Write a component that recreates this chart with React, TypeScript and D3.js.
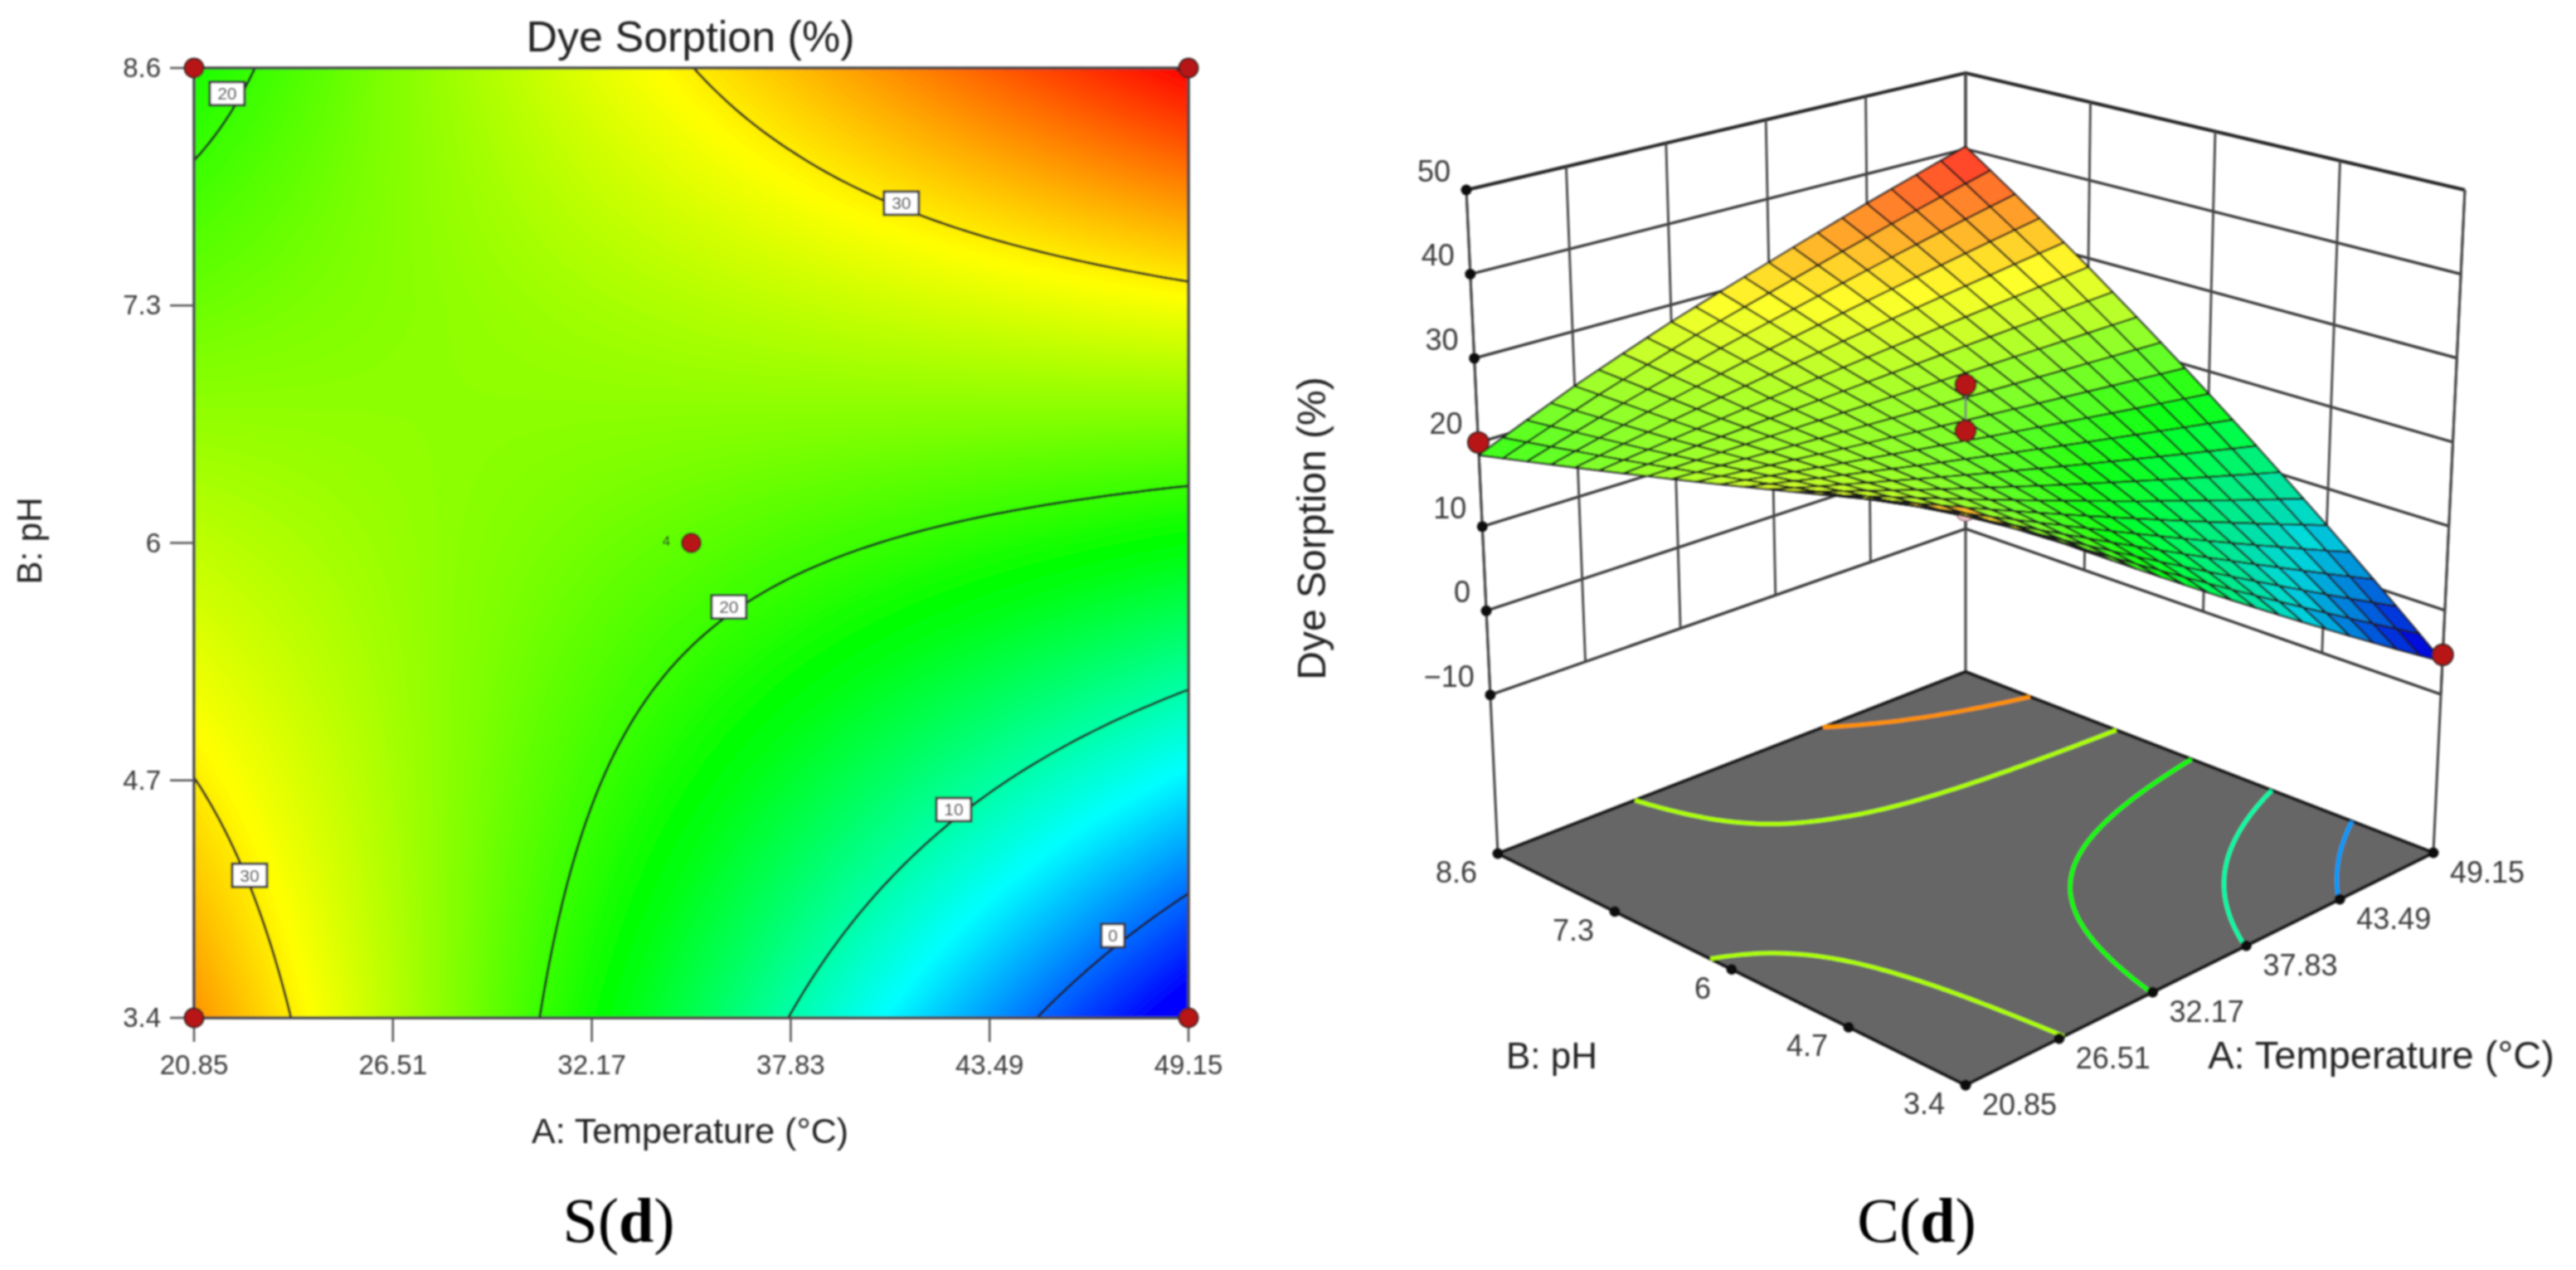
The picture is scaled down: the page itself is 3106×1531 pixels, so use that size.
import { useEffect, useRef } from "react";
import * as d3 from "d3";

const tempTicks = [20.85, 26.51, 32.17, 37.83, 43.49, 49.15];
const phTicks = [3.4, 4.7, 6, 7.3, 8.6];
const sorptionLevels = [-10, 0, 10, 20, 30, 40, 50];
const contourLevels = [0, 10, 20, 30, 40];
const floorLevels = [2, 10, 18, 25.5, 34];

// dye sorption read at each tick crossing, one row per pH tick
const sorptionAt34 = [33.9, 25.9, 17.9, 9.9, 1.9, -6.1];
const sorptionAt47 = [30.05, 25.15, 20.25, 15.35, 10.45, 5.55];
const sorptionAt60 = [26.2, 24.4, 22.6, 20.8, 19.0, 17.2];
const sorptionAt73 = [22.35, 23.65, 24.95, 26.25, 27.55, 28.85];
const sorptionAt86 = [18.5, 23.4, 27.9, 32.0, 36.2, 40.3];
const sorptionRows = [sorptionAt34, sorptionAt47, sorptionAt60, sorptionAt73, sorptionAt86];

const contourLabels: [string, number, number][] = [
  ["20", 21.79, 8.46],
  ["30", 40.98, 7.86],
  ["20", 36.07, 5.65],
  ["10", 42.47, 4.54],
  ["0", 47.0, 3.85],
  ["30", 22.43, 4.18],
];
const designPoints: [number, number][] = [
  [20.85, 8.6],
  [49.15, 8.6],
  [20.85, 3.4],
  [49.15, 3.4],
  [35, 6],
];
const surfacePoints: [number, number, number][] = [
  [20.85, 8.6, 20],
  [35, 6, 28.4],
  [35, 6, 22.9],
  [49.15, 3.4, -5.3],
];
const hiddenPoint: [number, number, number] = [20.85, 3.4, 33.5];

const minTemp = tempTicks[0];
const maxTemp = tempTicks[tempTicks.length - 1];
const minPh = phTicks[0];
const maxPh = phTicks[phTicks.length - 1];
const floorZ = -28.85;
const topZ = 50;

const sans = "'Liberation Sans', Arial, sans-serif";
const serif = "'Liberation Serif', 'Times New Roman', serif";

const sorptionColor = d3
  .scaleLinear<string>()
  .domain([-4.5, 6.2, 17.4, 29.2, 40.3])
  .range(["#0000ff", "#00ffff", "#00ff00", "#ffff00", "#ff0000"])
  .clamp(true);

// the mesh is a little darker in the blues and paler in the reds
const meshShade = d3.scaleLinear().domain([8, 22]).range([-0.14, 0.17]).clamp(true);
const meshColor = (z: number) => {
  const shade = meshShade(z);
  return shade < 0
    ? d3.interpolateRgb(sorptionColor(z), "#000000")(-shade)
    : d3.interpolateRgb(sorptionColor(z), "#ffffff")(shade);
};

const valueAt = (temp: number, ph: number) => {
  const i = Math.min(Math.max(d3.bisectRight(tempTicks, temp) - 1, 0), tempTicks.length - 2);
  const j = Math.min(Math.max(d3.bisectRight(phTicks, ph) - 1, 0), phTicks.length - 2);
  const s = (temp - tempTicks[i]) / (tempTicks[i + 1] - tempTicks[i]);
  const t = (ph - phTicks[j]) / (phTicks[j + 1] - phTicks[j]);
  const low = sorptionRows[j][i] * (1 - s) + sorptionRows[j][i + 1] * s;
  const high = sorptionRows[j + 1][i] * (1 - s) + sorptionRows[j + 1][i + 1] * s;
  return low * (1 - t) + high * t;
};

// sample grid for d3.contours
const gridSize = 141;
const gridTemp = d3.scaleLinear().domain([0.5, gridSize - 0.5]).range([minTemp, maxTemp]).clamp(true);
const gridPh = d3.scaleLinear().domain([0.5, gridSize - 0.5]).range([minPh, maxPh]).clamp(true);
const gridValues: number[] = [];
for (let j = 0; j < gridSize; j++) {
  for (let i = 0; i < gridSize; i++) {
    gridValues.push(valueAt(gridTemp(i + 0.5), gridPh(j + 0.5)));
  }
}
const contourGen = d3.contours().size([gridSize, gridSize]);

// contour rings run along the grid edge too, keep only the inner parts
const contourRuns = (level: number) => {
  const runs: [number, number][][] = [];
  const low = 0.75;
  const high = gridSize - 0.75;
  const onEdge = (a: number[], b: number[]) =>
    (a[0] <= low && b[0] <= low) ||
    (a[0] >= high && b[0] >= high) ||
    (a[1] <= low && b[1] <= low) ||
    (a[1] >= high && b[1] >= high);
  contourGen.contour(gridValues, level).coordinates.forEach((polygon) => {
    polygon.forEach((ring) => {
      const local: [number, number][][] = [];
      let current: [number, number][] = [];
      for (let k = 1; k < ring.length; k++) {
        if (onEdge(ring[k - 1], ring[k])) {
          if (current.length) local.push(current);
          current = [];
        } else {
          if (!current.length) current.push(ring[k - 1] as [number, number]);
          current.push(ring[k] as [number, number]);
        }
      }
      if (current.length) local.push(current);
      if (local.length > 1 && !onEdge(ring[ring.length - 2], ring[0])) {
        const last = local.pop() as [number, number][];
        local[0] = last.concat(local[0].slice(1));
      }
      runs.push(...local);
    });
  });
  return runs.map((run) => run.map(([x, y]) => [gridTemp(x), gridPh(y)] as [number, number]));
};

// corners of the 3D box as [front, right, left, back]
const boxFloor = [[2370, 1308], [2934, 1028], [1806, 1029], [2370, 810]];
const boxTop = [[2370, 433], [2972, 229], [1768, 229], [2370, 88]];
const tempUnit = d3.scaleLinear().domain([minTemp, maxTemp]).range([0, 1]);
const phUnit = d3.scaleLinear().domain([minPh, maxPh]).range([0, 1]);
const zUnit = d3.scaleLinear().domain([floorZ, topZ]).range([0, 1]);

const project = (temp: number, ph: number, z: number): [number, number] => {
  const a = tempUnit(temp);
  const b = phUnit(ph);
  const c = zUnit(z);
  const weights = [(1 - a) * (1 - b), a * (1 - b), (1 - a) * b, a * b];
  const at = (dim: number) =>
    d3.sum(weights, (w, i) => w * (boxFloor[i][dim] * (1 - c) + boxTop[i][dim] * c));
  return [at(0), at(1)];
};

export default function App() {
  const svgRef = useRef<SVGSVGElement | null>(null);

  useEffect(() => {
    if (!svgRef.current) return;
    const root = d3.select(svgRef.current);
    root.selectAll("*").remove();

    const blur = root.append("defs").append("filter").attr("id", "soft");
    blur.attr("x", 0).attr("y", 0).attr("width", 1).attr("height", 1);
    blur.append("feGaussianBlur").attr("stdDeviation", 0.9);
    const svg = root.append("g").attr("filter", "url(#soft)");

    const addText = (
      x: number,
      y: number,
      text: string,
      size: number,
      anchor = "middle",
      fill = "#3a3a3a",
      family = sans,
    ) =>
      svg
        .append("text")
        .attr("x", x)
        .attr("y", y)
        .attr("text-anchor", anchor)
        .attr("font-size", size)
        .attr("font-family", family)
        .attr("fill", fill)
        .text(text);

    // contour plot
    const x = d3.scaleLinear().domain([minTemp, maxTemp]).range([234, 1433]);
    const y = d3.scaleLinear().domain([minPh, maxPh]).range([1227, 82]);
    const flatLine = d3
      .line<[number, number]>()
      .x((d) => x(d[0]))
      .y((d) => y(d[1]));

    const bands = d3.range(-7, 41, 0.2);
    bands.forEach((level) => {
      const shape = contourGen.contour(gridValues, level);
      const d = shape.coordinates
        .flat()
        .map((ring) => {
          const pts = ring.map((p) => [gridTemp(p[0]), gridPh(p[1])] as [number, number]);
          return flatLine(pts) + "Z";
        })
        .join("");
      svg.append("path").attr("d", d).attr("fill", sorptionColor(level + 0.1));
    });

    contourLevels.forEach((level) => {
      contourRuns(level).forEach((run) => {
        svg
          .append("path")
          .attr("d", flatLine(run))
          .attr("fill", "none")
          .attr("stroke", "#1c1c1c")
          .attr("stroke-width", 3);
      });
    });

    svg
      .append("rect")
      .attr("x", x(minTemp))
      .attr("y", y(maxPh))
      .attr("width", x(maxTemp) - x(minTemp))
      .attr("height", y(minPh) - y(maxPh))
      .attr("fill", "none")
      .attr("stroke", "#444")
      .attr("stroke-width", 3.5);

    tempTicks.forEach((t) => {
      svg
        .append("line")
        .attr("x1", x(t))
        .attr("x2", x(t))
        .attr("y1", y(minPh))
        .attr("y2", y(minPh) + 29)
        .attr("stroke", "#555")
        .attr("stroke-width", 2.5);
      addText(x(t), 1295, String(t), 33);
    });
    phTicks.forEach((p) => {
      svg
        .append("line")
        .attr("x1", x(minTemp) - 29)
        .attr("x2", x(minTemp))
        .attr("y1", y(p))
        .attr("y2", y(p))
        .attr("stroke", "#555")
        .attr("stroke-width", 2.5);
      addText(194, y(p) + 11, String(p), 33, "end");
    });

    contourLabels.forEach(([label, t, p]) => {
      const w = label.length > 1 ? 42 : 28;
      svg
        .append("rect")
        .attr("x", x(t) - w / 2)
        .attr("y", y(p) - 14)
        .attr("width", w)
        .attr("height", 28)
        .attr("fill", "#fff")
        .attr("stroke", "#333")
        .attr("stroke-width", 3);
      addText(x(t), y(p) + 7.5, label, 21, "middle", "#222");
    });

    designPoints.forEach(([t, p]) => {
      svg
        .append("circle")
        .attr("cx", x(t))
        .attr("cy", y(p))
        .attr("r", 11.5)
        .attr("fill", "#b81414")
        .attr("stroke", "#3a2020")
        .attr("stroke-width", 2);
    });
    addText(x(35) - 30, y(6) + 3, "4", 17, "middle", "#222");

    addText(832.5, 62, "Dye Sorption (%)", 52, "middle", "#222");
    addText(832, 1378, "A: Temperature (°C)", 43, "middle", "#222");
    svg
      .append("text")
      .attr("transform", "translate(50,652) rotate(-90)")
      .attr("text-anchor", "middle")
      .attr("font-size", 42)
      .attr("font-family", sans)
      .attr("fill", "#222")
      .text("B: pH");

    // 3D surface: walls first, then floor, then the mesh
    const spaceLine = d3.line<[number, number]>();

    sorptionLevels.forEach((level) => {
      svg
        .append("path")
        .attr(
          "d",
          spaceLine([
            project(minTemp, maxPh, level),
            project(maxTemp, maxPh, level),
            project(maxTemp, minPh, level),
          ]),
        )
        .attr("fill", "none")
        .attr("stroke", level === topZ ? "#222" : "#333")
        .attr("stroke-width", level === topZ ? 4 : 3.2);
    });
    tempTicks.forEach((t) => {
      svg
        .append("path")
        .attr("d", spaceLine([project(t, maxPh, topZ), project(t, maxPh, -10)]))
        .attr("stroke", "#444")
        .attr("stroke-width", 2.8);
    });
    phTicks.forEach((p) => {
      svg
        .append("path")
        .attr("d", spaceLine([project(maxTemp, p, topZ), project(maxTemp, p, -10)]))
        .attr("stroke", "#444")
        .attr("stroke-width", 2.8);
    });
    const uprights: [number, number][] = [
      [minTemp, maxPh],
      [maxTemp, maxPh],
      [maxTemp, minPh],
    ];
    uprights.forEach(([t, p]) => {
      svg
        .append("path")
        .attr("d", spaceLine([project(t, p, topZ), project(t, p, floorZ)]))
        .attr("stroke", "#444")
        .attr("stroke-width", 3);
    });

    svg
      .append("path")
      .attr(
        "d",
        spaceLine([
          project(minTemp, minPh, floorZ),
          project(maxTemp, minPh, floorZ),
          project(maxTemp, maxPh, floorZ),
          project(minTemp, maxPh, floorZ),
        ]) + "Z",
      )
      .attr("fill", "#666666")
      .attr("stroke", "#151515")
      .attr("stroke-width", 4);

    floorLevels.forEach((level) => {
      contourRuns(level).forEach((run) => {
        svg
          .append("path")
          .attr("d", spaceLine(run.map(([t, p]) => project(t, p, floorZ))))
          .attr("fill", "none")
          .attr("stroke", sorptionColor(level))
          .attr("stroke-width", 5);
      });
    });

    sorptionLevels.forEach((level) => {
      const [px, py] = project(minTemp, maxPh, level);
      svg.append("circle").attr("cx", px).attr("cy", py).attr("r", 6.5).attr("fill", "#111");
      addText(px - 19, py - 10, level < 0 ? `\u2212${-level}` : String(level), 36, "end");
    });
    phTicks.forEach((p) => {
      const [px, py] = project(minTemp, p, floorZ);
      svg.append("circle").attr("cx", px).attr("cy", py).attr("r", 6.5).attr("fill", "#111");
      addText(px - 25, py + 35, String(p), 36, "end");
    });
    tempTicks.forEach((t) => {
      const [px, py] = project(t, minPh, floorZ);
      svg.append("circle").attr("cx", px).attr("cy", py).attr("r", 6.5).attr("fill", "#111");
      addText(px + 20, py + 36, String(t), 36, "start");
    });

    const [hx, hy] = project(...hiddenPoint);
    svg
      .append("circle")
      .attr("cx", hx)
      .attr("cy", hy)
      .attr("r", 12)
      .attr("fill", "#f3c6cc")
      .attr("stroke", "#8a6a6a")
      .attr("stroke-width", 1.5);

    const meshSteps = 20;
    const meshTemp = d3.scaleLinear().domain([0, meshSteps]).range([minTemp, maxTemp]);
    const meshPh = d3.scaleLinear().domain([0, meshSteps]).range([minPh, maxPh]);
    const cells: { i: number; j: number }[] = [];
    d3.range(meshSteps).forEach((i) => d3.range(meshSteps).forEach((j) => cells.push({ i, j })));
    cells.sort((a, b) => b.i + b.j - (a.i + a.j));
    cells.forEach(({ i, j }) => {
      const corners: [number, number][] = [
        [meshTemp(i), meshPh(j)],
        [meshTemp(i + 1), meshPh(j)],
        [meshTemp(i + 1), meshPh(j + 1)],
        [meshTemp(i), meshPh(j + 1)],
      ];
      const zs = corners.map(([t, p]) => valueAt(t, p));
      svg
        .append("path")
        .attr("d", spaceLine(corners.map(([t, p], k) => project(t, p, zs[k]))) + "Z")
        .attr("fill", meshColor(d3.mean(zs) as number))
        .attr("stroke", "#1a1a1a")
        .attr("stroke-width", 2.2)
        .attr("stroke-linejoin", "round");
    });

    const [c1x, c1y] = project(...surfacePoints[1]);
    const [c2x, c2y] = project(...surfacePoints[2]);
    svg
      .append("line")
      .attr("x1", c1x)
      .attr("x2", c2x)
      .attr("y1", c1y)
      .attr("y2", c2y)
      .attr("stroke", "#777")
      .attr("stroke-width", 2.5);
    surfacePoints.forEach((point) => {
      const [px, py] = project(...point);
      svg
        .append("circle")
        .attr("cx", px)
        .attr("cy", py)
        .attr("r", 12.5)
        .attr("fill", "#b81414")
        .attr("stroke", "#3a2020")
        .attr("stroke-width", 2);
    });

    svg
      .append("text")
      .attr("transform", "translate(1598,637) rotate(-90)")
      .attr("text-anchor", "middle")
      .attr("font-size", 48)
      .attr("font-family", sans)
      .attr("fill", "#222")
      .text("Dye Sorption (%)");
    addText(1871, 1288, "B: pH", 44, "middle", "#222");
    addText(2871, 1288, "A: Temperature (°C)", 47, "middle", "#222");

    const caption = (cx: number, first: string) => {
      const t = addText(cx, 1497, first + "(", 76, "middle", "#000", serif);
      t.append("tspan").attr("font-weight", "bold").text("d");
      t.append("tspan").text(")");
    };
    caption(746, "S");
    caption(2311, "C");
  }, []);

  return (
    <svg
      ref={svgRef}
      width={3106}
      height={1531}
      style={{ position: "absolute", left: 0, top: 0, background: "#fff" }}
    />
  );
}
